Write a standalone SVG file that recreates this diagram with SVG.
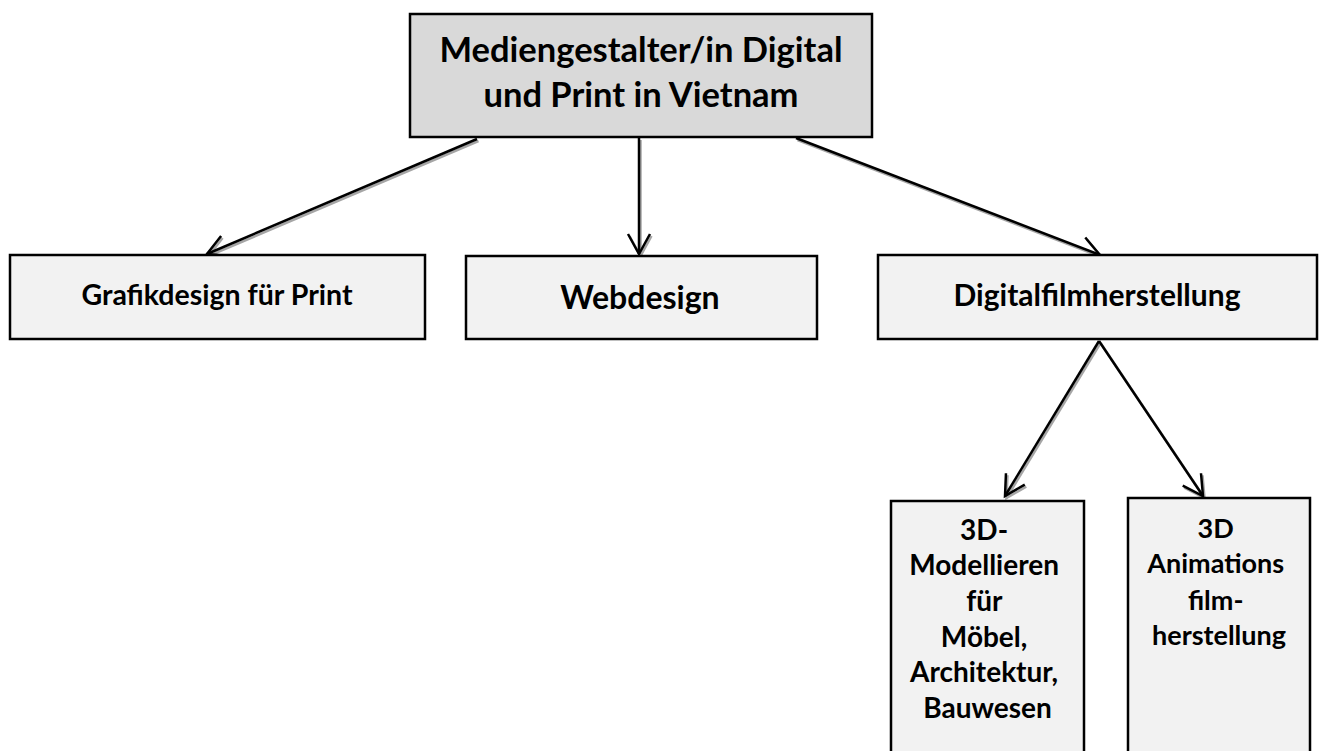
<svg xmlns="http://www.w3.org/2000/svg" width="1323" height="751" viewBox="0 0 1323 751">
  <style>
    .box { stroke: #000; stroke-width: 2.5; }
    .top { fill: #d9d9d9; }
    .child { fill: #f2f2f2; }
    .t { font-family: Lato, "Liberation Sans", sans-serif; font-weight: bold; fill: #000; text-anchor: middle; }
    .conn { stroke: #000; stroke-width: 2.5; fill: none; marker-end: url(#arr); }
    .shadow { stroke: #a6a6a6; stroke-width: 2.5; fill: none; marker-end: url(#arrS); }
  </style>
  <defs>
    <marker id="arr" markerUnits="userSpaceOnUse" markerWidth="30" markerHeight="30" refX="0" refY="0" viewBox="-25 -15 30 30" orient="auto" overflow="visible">
      <path d="M-20,-11 L0,0 L-20,11" fill="none" stroke="#000" stroke-width="2.5" stroke-linejoin="miter"/>
    </marker>
    <marker id="arrS" markerUnits="userSpaceOnUse" markerWidth="30" markerHeight="30" refX="0" refY="0" viewBox="-25 -15 30 30" orient="auto" overflow="visible">
      <path d="M-20,-11 L0,0 L-20,11" fill="none" stroke="#a6a6a6" stroke-width="2.5"/>
    </marker>
  </defs>

  <g id="connectors">
    <g transform="translate(1.5,2)">
      <line class="shadow" x1="477" y1="139" x2="207" y2="254"/>
      <line class="shadow" x1="639" y1="138" x2="639" y2="254"/>
      <line class="shadow" x1="796" y1="138" x2="1100" y2="255"/>
      <line class="shadow" x1="1099" y1="341" x2="1005" y2="496"/>
      <line class="shadow" x1="1099" y1="341" x2="1203" y2="496"/>
    </g>
    <line class="conn" x1="477" y1="139" x2="207" y2="254"/>
    <line class="conn" x1="639" y1="138" x2="639" y2="254"/>
    <line class="conn" x1="796" y1="138" x2="1100" y2="255"/>
    <line class="conn" x1="1099" y1="341" x2="1005" y2="496"/>
    <line class="conn" x1="1099" y1="341" x2="1203" y2="496"/>
  </g>

  <g id="node-main">
    <rect class="box top" x="410" y="14" width="462" height="123"/>
    <text class="t" x="641" y="62" font-size="34.5">Mediengestalter/in Digital</text>
    <text class="t" x="641" y="107" font-size="34.5">und Print in Vietnam</text>
  </g>

  <g id="node-grafik">
    <rect class="box child" x="10" y="255" width="415" height="84"/>
    <text class="t" x="217" y="305" font-size="28.5">Grafikdesign für Print</text>
  </g>

  <g id="node-web">
    <rect class="box child" x="466" y="256" width="351" height="83"/>
    <text class="t" x="640" y="309" font-size="32">Webdesign</text>
  </g>

  <g id="node-digital">
    <rect class="box child" x="878" y="255" width="439" height="84"/>
    <text class="t" x="1097" y="306" font-size="30">Digitalfilmherstellung</text>
  </g>

  <g id="node-3dmodel">
    <rect class="box child" x="891" y="501" width="193" height="260"/>
    <text class="t" font-size="28">
      <tspan x="987.5" y="540">3D-</tspan>
      <tspan x="987.5" y="575">Modellieren</tspan>
      <tspan x="987.5" y="611">für</tspan>
      <tspan x="987.5" y="647">Möbel,</tspan>
      <tspan x="987.5" y="682">Architektur,</tspan>
      <tspan x="987.5" y="718">Bauwesen</tspan>
    </text>
  </g>

  <g id="node-3danim">
    <rect class="box child" x="1128" y="498" width="182" height="263"/>
    <text class="t" font-size="27">
      <tspan x="1219" y="538">3D</tspan>
      <tspan x="1219" y="573">Animations</tspan>
      <tspan x="1219" y="610">film-</tspan>
      <tspan x="1219" y="645">herstellung</tspan>
    </text>
  </g>
</svg>
